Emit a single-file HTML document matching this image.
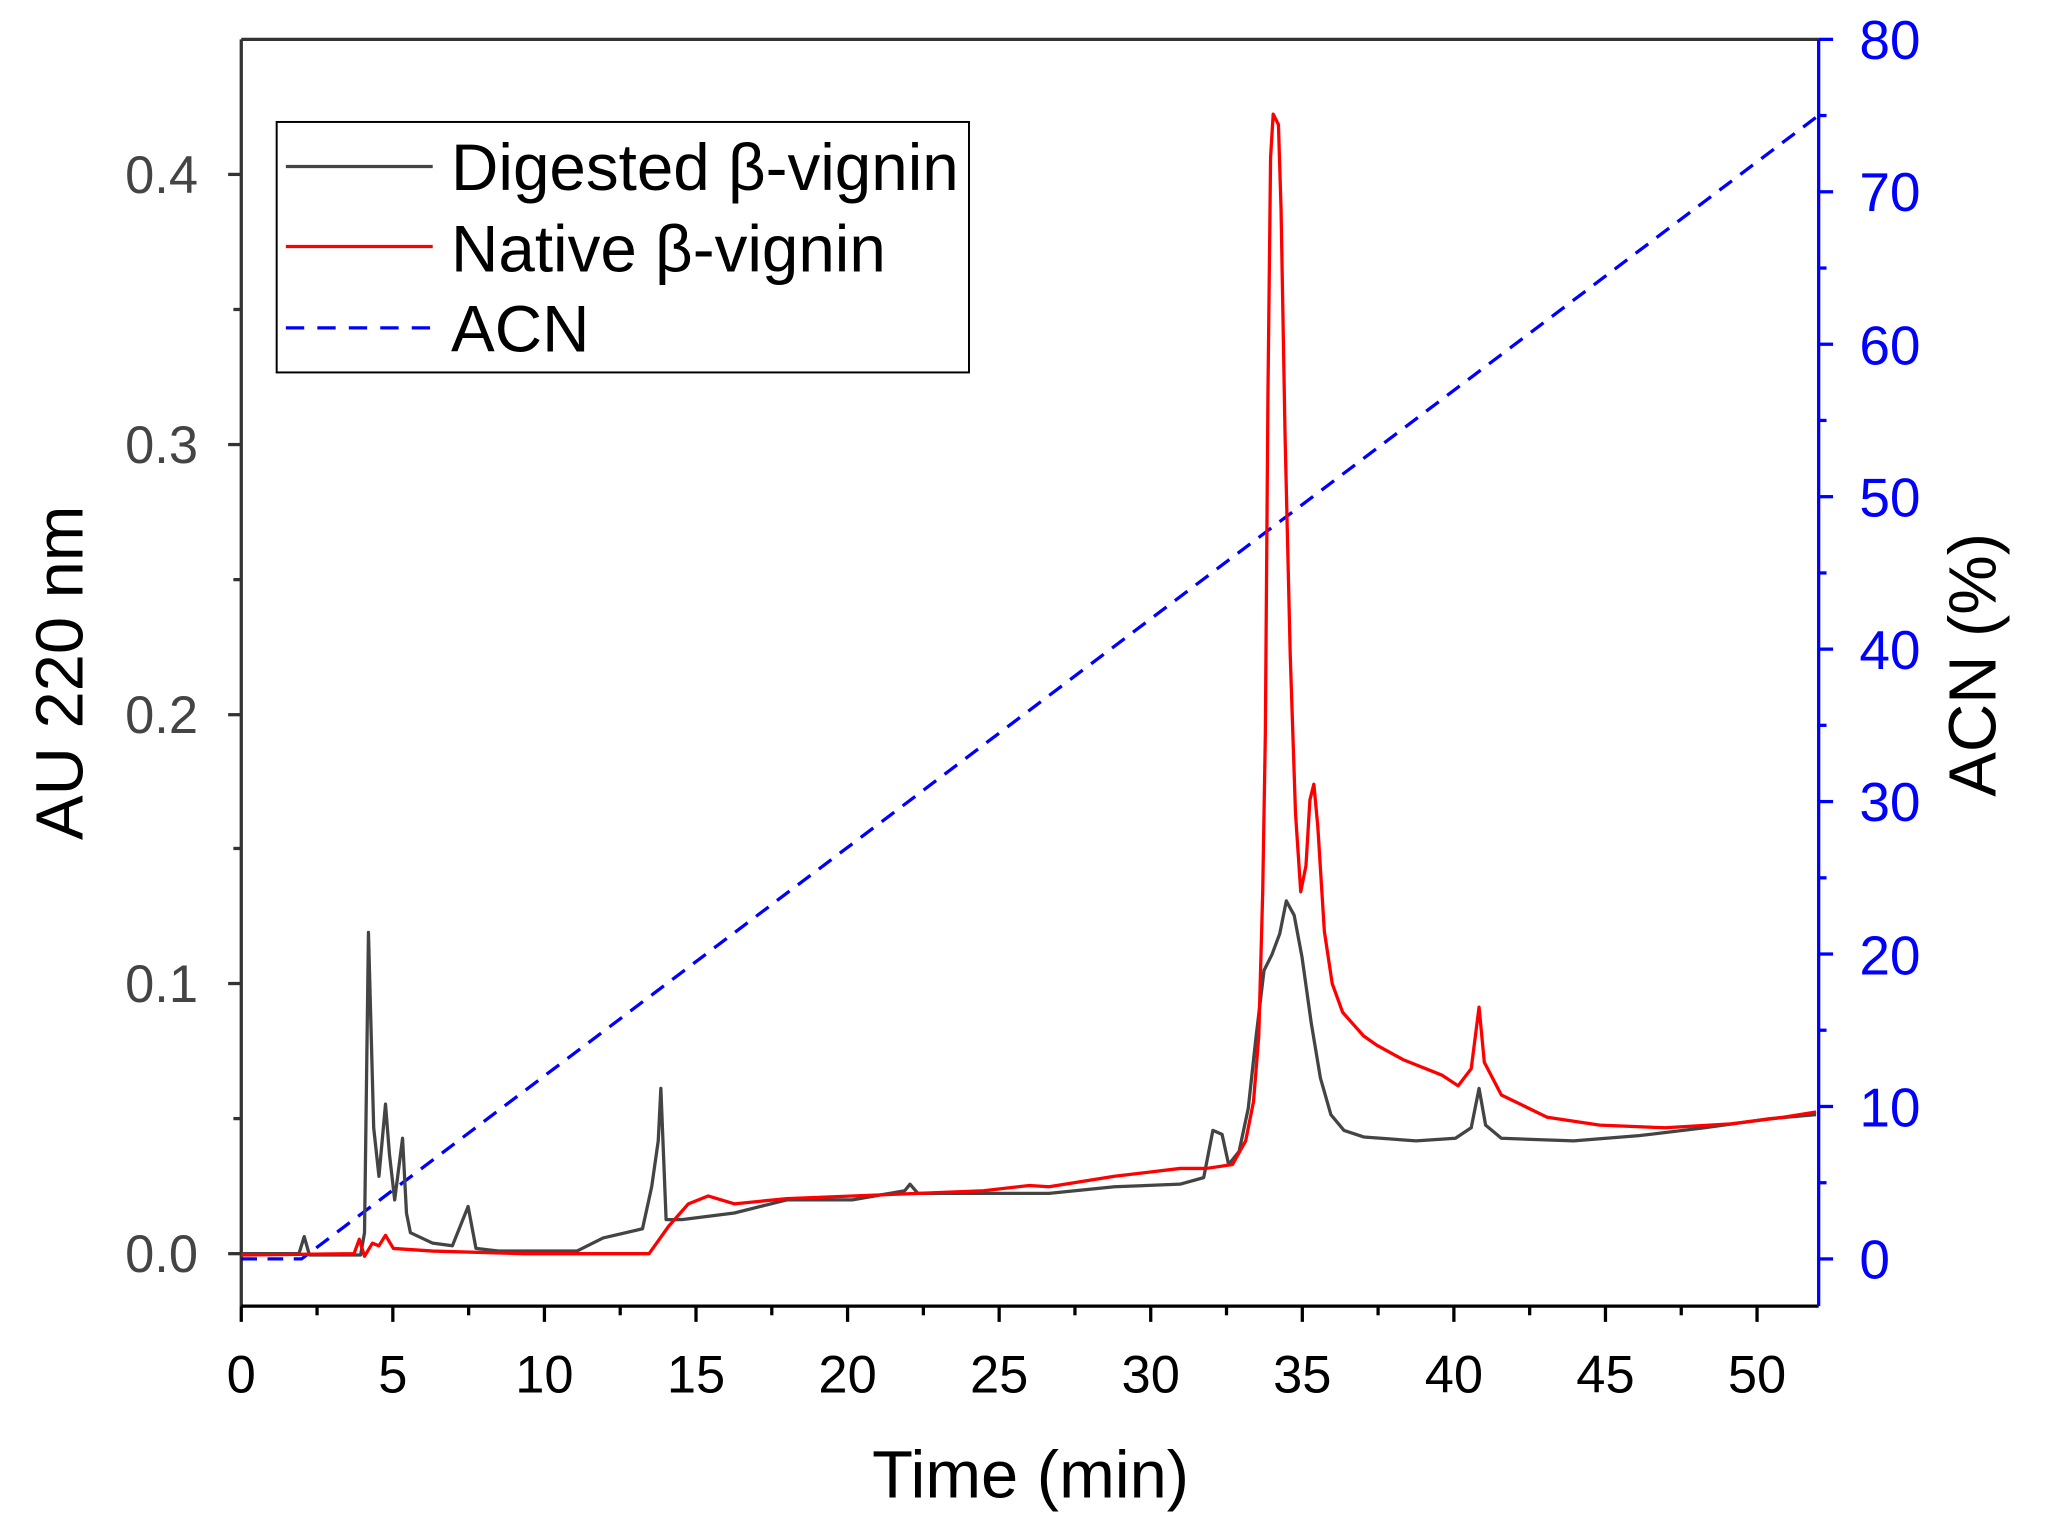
<!DOCTYPE html>
<html><head><meta charset="utf-8"><style>html,body{margin:0;padding:0;background:#fff}svg{display:block}</style></head>
<body>
<svg width="2056" height="1533" viewBox="0 0 1568 1169" preserveAspectRatio="none" xmlns="http://www.w3.org/2000/svg" font-family="Liberation Sans, sans-serif">
<rect width="1568" height="1169" fill="#fff"/>
<line x1="184" y1="30" x2="1387" y2="30" stroke="#333" stroke-width="2.5"/>
<line x1="184" y1="30" x2="184" y2="996" stroke="#333" stroke-width="2.5"/>
<line x1="184" y1="996" x2="1387" y2="996" stroke="#000" stroke-width="2.5"/>
<line x1="1387" y1="30" x2="1387" y2="996" stroke="#00f" stroke-width="2.5"/>
<g stroke="#333" stroke-width="2.5">
<line x1="174" y1="956" x2="184" y2="956"/><line x1="174" y1="750" x2="184" y2="750"/><line x1="174" y1="545" x2="184" y2="545"/><line x1="174" y1="339" x2="184" y2="339"/><line x1="174" y1="133" x2="184" y2="133"/>
<line x1="178" y1="853" x2="184" y2="853"/><line x1="178" y1="647" x2="184" y2="647"/><line x1="178" y1="442" x2="184" y2="442"/><line x1="178" y1="236" x2="184" y2="236"/>
</g>
<g stroke="#000" stroke-width="2.5">
<line x1="184" y1="996" x2="184" y2="1008"/><line x1="299.6" y1="996" x2="299.6" y2="1008"/><line x1="415.2" y1="996" x2="415.2" y2="1008"/><line x1="530.8" y1="996" x2="530.8" y2="1008"/><line x1="646.4" y1="996" x2="646.4" y2="1008"/><line x1="762" y1="996" x2="762" y2="1008"/><line x1="877.6" y1="996" x2="877.6" y2="1008"/><line x1="993.2" y1="996" x2="993.2" y2="1008"/><line x1="1108.8" y1="996" x2="1108.8" y2="1008"/><line x1="1224.4" y1="996" x2="1224.4" y2="1008"/><line x1="1340" y1="996" x2="1340" y2="1008"/>
<line x1="241.8" y1="996" x2="241.8" y2="1003"/><line x1="357.4" y1="996" x2="357.4" y2="1003"/><line x1="473" y1="996" x2="473" y2="1003"/><line x1="588.6" y1="996" x2="588.6" y2="1003"/><line x1="704.2" y1="996" x2="704.2" y2="1003"/><line x1="819.8" y1="996" x2="819.8" y2="1003"/><line x1="935.4" y1="996" x2="935.4" y2="1003"/><line x1="1051" y1="996" x2="1051" y2="1003"/><line x1="1166.6" y1="996" x2="1166.6" y2="1003"/><line x1="1282.2" y1="996" x2="1282.2" y2="1003"/>
</g>
<g stroke="#00f" stroke-width="2.5">
<line x1="1387" y1="960" x2="1398" y2="960"/><line x1="1387" y1="843.75" x2="1398" y2="843.75"/><line x1="1387" y1="727.5" x2="1398" y2="727.5"/><line x1="1387" y1="611.25" x2="1398" y2="611.25"/><line x1="1387" y1="495" x2="1398" y2="495"/><line x1="1387" y1="378.75" x2="1398" y2="378.75"/><line x1="1387" y1="262.5" x2="1398" y2="262.5"/><line x1="1387" y1="146.25" x2="1398" y2="146.25"/><line x1="1387" y1="30" x2="1398" y2="30"/>
<line x1="1387" y1="901.9" x2="1393" y2="901.9"/><line x1="1387" y1="785.6" x2="1393" y2="785.6"/><line x1="1387" y1="669.4" x2="1393" y2="669.4"/><line x1="1387" y1="553.1" x2="1393" y2="553.1"/><line x1="1387" y1="436.9" x2="1393" y2="436.9"/><line x1="1387" y1="320.6" x2="1393" y2="320.6"/><line x1="1387" y1="204.4" x2="1393" y2="204.4"/><line x1="1387" y1="88.1" x2="1393" y2="88.1"/>
</g>
<g font-size="40" fill="#444" text-anchor="end">
<text x="151" y="970">0.0</text><text x="151" y="764">0.1</text><text x="151" y="559">0.2</text><text x="151" y="353">0.3</text><text x="151" y="147">0.4</text>
</g>
<g font-size="40" fill="#000" text-anchor="middle">
<text x="184" y="1062">0</text><text x="299.6" y="1062">5</text><text x="415.2" y="1062">10</text><text x="530.8" y="1062">15</text><text x="646.4" y="1062">20</text><text x="762" y="1062">25</text><text x="877.6" y="1062">30</text><text x="993.2" y="1062">35</text><text x="1108.8" y="1062">40</text><text x="1224.4" y="1062">45</text><text x="1340" y="1062">50</text>
</g>
<g font-size="42" fill="#00f">
<text x="1418" y="975">0</text><text x="1418" y="859">10</text><text x="1418" y="743">20</text><text x="1418" y="626">30</text><text x="1418" y="510">40</text><text x="1418" y="394">50</text><text x="1418" y="278">60</text><text x="1418" y="161">70</text><text x="1418" y="45">80</text>
</g>
<text x="786" y="1142" font-size="51" text-anchor="middle">Time (min)</text>
<text transform="translate(63,513) rotate(-90)" font-size="51" text-anchor="middle">AU 220 nm</text>
<text transform="translate(1522,507) rotate(-90)" font-size="51" text-anchor="middle">ACN (%)</text>
<polyline points="184,960 230,960 1387,88" fill="none" stroke="#00f" stroke-width="2.5" stroke-dasharray="12,8"/>
<polyline fill="none" stroke="#444" stroke-width="2.5" stroke-linejoin="round" points="184,956 228,956 232,943 236,957 275,957 278,940 281,711 285,860 289,897 294,842 297,880 301,915 307,868 310,925 313,940 330,948 345,950 357,920 363,952 380,954 440,954 460,944 490,937 497,905 502,870 504,830 508,930 520,930 560,925 600,915 650,915 690,908 694,903 700,910 750,910 800,910 850,905 900,903 918,898 925,862 932,865 937,888 945,878 952,845 958,790 964,740 970,728 976,712 981,687 987,698 993,730 1000,780 1007,822 1015,850 1025,862 1040,867 1080,870 1110,868 1122,860 1128,830 1133,858 1145,868 1200,870 1250,866 1300,860 1350,853 1385,850"/>
<polyline fill="none" stroke="#f00" stroke-width="2.5" stroke-linejoin="round" points="184,957 270,956 274,945 278,958 284,948 289,950 294,942 300,952 330,954 400,956 495,956 510,935 525,918 540,912 560,918 600,914 650,912 700,910 750,908 785,904 800,905 850,897 900,891 920,891 940,888 950,870 956,840 960,790 963,680 965,560 967,300 969,120 971,87 975,95 977,160 980,330 984,500 988,620 992,680 996,660 999,610 1002,598 1005,630 1010,710 1016,750 1024,772 1040,790 1050,797 1070,808 1100,820 1112,828 1122,815 1128,768 1132,810 1145,835 1180,852 1220,858 1270,860 1320,857 1360,852 1385,848"/>
<rect x="211" y="93" width="528" height="191" fill="#fff" stroke="#000" stroke-width="1.5"/>
<line x1="218" y1="127" x2="330" y2="127" stroke="#444" stroke-width="2.5"/>
<line x1="218" y1="188" x2="330" y2="188" stroke="#f00" stroke-width="2.5"/>
<line x1="218" y1="250" x2="330" y2="250" stroke="#00f" stroke-width="2.5" stroke-dasharray="14,10"/>
<g font-size="50" fill="#000"><text x="344" y="145">Digested β-vignin</text><text x="344" y="207">Native β-vignin</text><text x="344" y="268">ACN</text></g>
</svg>
</body></html>
